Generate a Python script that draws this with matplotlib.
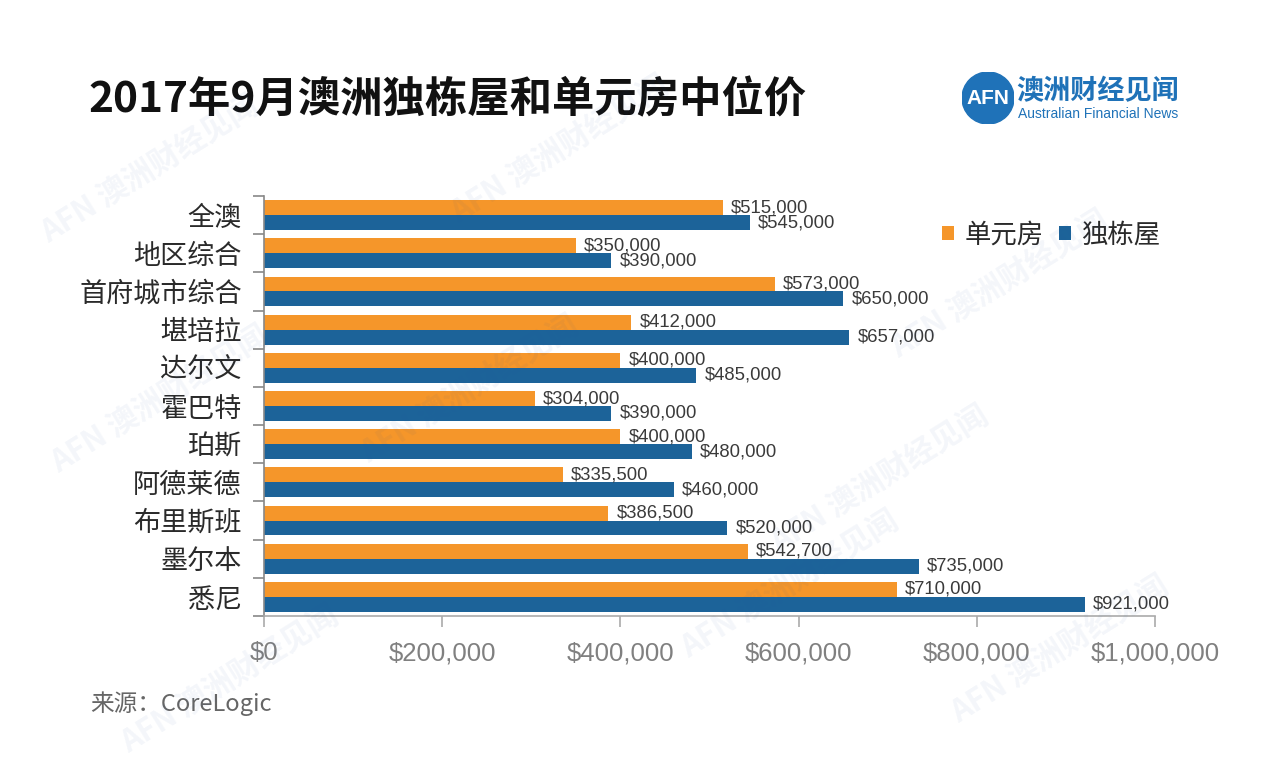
import matplotlib
matplotlib.use("Agg")
import matplotlib.pyplot as plt
from matplotlib.patches import Circle
from matplotlib.ticker import FuncFormatter, FixedLocator
import numpy as np

# data
cities = ['全澳', '地区综合', '首府城市综合', '堪培拉', '达尔文', '霍巴特',
          '珀斯', '阿德莱德', '布里斯班', '墨尔本', '悉尼']
units_price = [515000, 350000, 573000, 412000, 400000, 304000,
               400000, 335500, 386500, 542700, 710000]
house_price = [545000, 390000, 650000, 657000, 485000, 390000,
               480000, 460000, 520000, 735000, 921000]
series_names = ['单元房', '独栋屋']
x_ticks = [0, 200000, 400000, 600000, 800000, 1000000]

c_unit = '#F5962A'
c_house = '#1C6399'

cjk = ['Noto Sans CJK SC', 'DejaVu Sans']
num_font = 'Liberation Sans'
plt.rcParams['font.family'] = cjk

fig = plt.figure(figsize=(12.8, 7.79), dpi=100)
fig.patch.set_facecolor('white')

ax = fig.add_axes([264/1280, 1-616/779, (1155-264)/1280, (616-196)/779])

y = np.arange(len(cities))
h = 0.39
ax.barh(y - h/2, units_price, height=h, color=c_unit, label=series_names[0], zorder=2)
ax.barh(y + h/2, house_price, height=h, color=c_house, label=series_names[1], zorder=2)

for i in range(len(cities)):
    ax.annotate('${:,}'.format(units_price[i]), (units_price[i], y[i] - h/2),
                xytext=(6, 0), textcoords='offset points', va='center', ha='left',
                fontsize=13.3, family=num_font, color='#3a3a3a')
    ax.annotate('${:,}'.format(house_price[i]), (house_price[i], y[i] + h/2),
                xytext=(6, 0), textcoords='offset points', va='center', ha='left',
                fontsize=13.3, family=num_font, color='#3a3a3a')

ax.set_xlim(0, 1000000)
ax.set_ylim(len(cities) - 0.5, -0.5)
ax.set_yticks(y)
ax.set_yticklabels(cities, fontsize=19.5, color='#2a2a2a')
ax.yaxis.set_minor_locator(FixedLocator(np.arange(-0.5, len(cities), 1)))
ax.tick_params(axis='y', which='major', length=0, pad=16)
ax.tick_params(axis='y', which='minor', length=8, color='#888888', width=1.2)

ax.xaxis.set_major_locator(FixedLocator(x_ticks))
ax.xaxis.set_major_formatter(FuncFormatter(lambda v, p: '${:,.0f}'.format(v)))
ax.tick_params(axis='x', length=8, color='#aaaaaa', width=1.2, pad=10,
               labelsize=18.5, labelcolor='#808080')
for lab in ax.get_xticklabels():
    lab.set_family(num_font)

for s in ['top', 'right']:
    ax.spines[s].set_visible(False)
ax.spines['left'].set_color('#888888')
ax.spines['bottom'].set_color('#aaaaaa')
ax.spines['left'].set_linewidth(1.2)
ax.spines['bottom'].set_linewidth(1.2)

leg = ax.legend(loc='center right', bbox_to_anchor=(1.033, 0.907), ncol=2, frameon=False,
                fontsize=19, handlelength=0.45, handleheight=0.45, handletextpad=0.4,
                columnspacing=0.6)
for t in leg.get_texts():
    t.set_color('#2a2a2a')

# title and source
fig.text(88/1280, 1-100/779, '2017年9月澳洲独栋屋和单元房中位价', fontsize=30.5,
         va='center', ha='left', color='#111111', weight='bold')
fig.text(90/1280, 1-704/779, '来源：CoreLogic', fontsize=17, va='center', ha='left',
         color='#666666')

# logo
lax = fig.add_axes([962/1280, 1-124/779, 52/1280, 52/779])
lax.set_xlim(-1, 1)
lax.set_ylim(-1, 1)
lax.set_aspect('equal')
lax.axis('off')
lax.add_patch(Circle((0, 0), 1, color='#1F72B8'))
lax.text(0, -0.02, 'AFN', color='white', fontsize=15, ha='center', va='center',
         family='Liberation Sans', weight='bold')
fig.text(1016/1280, 1-91/779, '澳洲财经见闻', fontsize=19.5, color='#1F72B8',
         va='center', ha='left', weight='bold')
fig.text(1018/1280, 1-114/779, 'Australian Financial News', fontsize=10,
         color='#1F72B8', va='center', ha='left', family='Liberation Sans')

# faint watermarks
for wx, wy in [(150, 170), (560, 150), (1000, 285), (160, 400), (470, 390),
               (880, 480), (790, 585), (1060, 650), (230, 680)]:
    fig.text(wx/1280, 1-wy/779, 'AFN 澳洲财经见闻', fontsize=22, rotation=32,
             color='#1F4E9A', alpha=0.05, ha='center', va='center', weight='bold')

fig.savefig('out.png', dpi=100, facecolor='white')
